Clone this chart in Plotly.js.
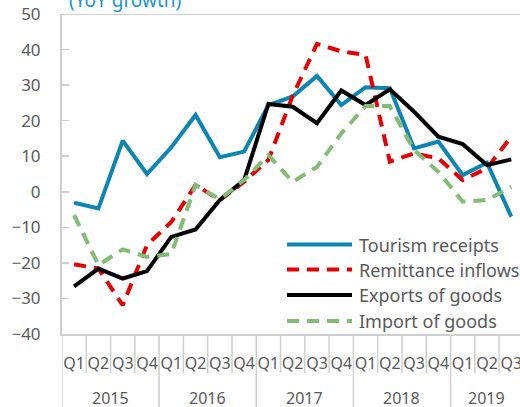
<!DOCTYPE html>
<html>
<head>
<meta charset="utf-8">
<script src="https://cdn.plot.ly/plotly-3.0.1.min.js"></script>
<style>html,body{margin:0;padding:0;background:#fff;}#chart{width:520px;height:407px;}</style>
</head>
<body>
<div id="chart"></div>
<script>
const years = ['2015','2015','2015','2015','2016','2016','2016','2016','2017','2017','2017','2017','2018','2018','2018','2018','2019','2019','2019'];
const quarters = ['Q1','Q2','Q3','Q4','Q1','Q2','Q3','Q4','Q1','Q2','Q3','Q4','Q1','Q2','Q3','Q4','Q1','Q2','Q3'];
const tourism = [-3.1,-4.7,14.4,5.0,12.5,21.6,9.7,11.3,24.4,26.8,32.6,24.4,29.4,29.1,12.2,14.1,4.7,8.2,-7.0];
const remittance = [-20.4,-21.6,-31.9,-15.0,-8.5,1.9,-2.3,2.8,9.0,27.0,41.6,39.5,38.5,8.5,10.8,9.4,3.3,6.6,15.5];
const exportsG = [-26.6,-21.6,-24.4,-22.3,-12.7,-10.6,-2.3,3.3,24.7,23.9,19.3,28.5,24.4,28.8,22.5,15.5,13.4,7.5,9.1];
const importsG = [-6.6,-20.6,-16.2,-18.3,-17.5,1.9,-2.1,3.3,10.3,2.8,7.0,16.4,24.1,24.1,11.7,5.6,-2.8,-2.3,1.4];
const seriesNames = ['Tourism receipts','Remittance inflows','Exports of goods','Import of goods'];
const seriesColors = ['#0b86b3','#e60000','#000000','#84bc76'];
const seriesDash = ['solid','12px,8px','solid','12px,8px'];
const yTicks = [-40,-30,-20,-10,0,10,20,30,40,50];

const FONT = 'Noto Sans, Open Sans, sans-serif';
const GRAY = '#595959';
const AXC = '#cfcfcf';
const idx = quarters.map((q, i) => i);
const XR = [-0.5, 18.36];
const values = [tourism, remittance, exportsG, importsG];

const traces = values.map((v, i) => ({
  x: idx, y: v, name: seriesNames[i], type: 'scatter', mode: 'lines', showlegend: false,
  line: {color: seriesColors[i], width: 4, dash: seriesDash[i]}
}));

// boundaries between quarters and between years
const uniqYears = [...new Set(years)];
const yearStarts = uniqYears.map(y => years.indexOf(y) - 0.5);
const qBounds = idx.slice(1).map(i => i - 0.5).filter(b => !yearStarts.includes(b));
const yearCenters = uniqYears.map(y => {
  const ii = idx.filter(i => years[i] === y);
  return ii.reduce((a, b) => a + b, 0) / ii.length;
});

const shapes = [{type:'line', xref:'paper', x0:0, x1:1, yref:'y', y0:50, y1:50, line:{color:AXC, width:2}}];
qBounds.forEach(b => shapes.push({type:'line', xref:'x', yref:'paper', x0:b, x1:b, y0:0, y1:-0.122,
                                  line:{color:AXC, width:1.5}}));
yearStarts.forEach(b => shapes.push({type:'line', xref:'x', yref:'paper', x0:b, x1:b, y0:0, y1:-0.235,
                                  line:{color:AXC, width:1.5}}));

// custom legend (long line samples like the reference)
const legRows = [0.2796, 0.2014, 0.1220, 0.0407];
const annotations = [{text: '(YoY growth)', xref:'paper', yref:'paper', x: 0.011, y: 1, xanchor:'left', yanchor:'bottom',
                 yshift: -1, showarrow:false, font:{family: FONT, size: 19, color:'#1a95cc'}}];
seriesNames.forEach((n, i) => {
  shapes.push({type:'line', xref:'paper', yref:'paper', x0:0.4913, x1:0.6332, y0:legRows[i], y1:legRows[i],
               line:{color: seriesColors[i], width: 4, dash: seriesDash[i]}});
  annotations.push({text: n, xref:'paper', yref:'paper', x: 0.6441, y: legRows[i], xanchor:'left', yanchor:'middle',
               showarrow:false, font:{family: FONT, size: 18, color: GRAY}});
});
uniqYears.forEach((y, i) => {
  annotations.push({text: y, xref:'x', yref:'paper', x: yearCenters[i], y: -0.2, xanchor:'center', yanchor:'middle',
               showarrow:false, font:{family: FONT, size: 16, color: GRAY}});
});

const layout = {
  width: 520, height: 407,
  margin: {l: 62, r: 0, t: 14, b: 73},
  paper_bgcolor: '#fff', plot_bgcolor: '#fff',
  font: {family: FONT, color: GRAY, size: 16},
  showlegend: false,
  xaxis: {
    type: 'linear', range: XR, tickvals: idx, ticktext: quarters, tickangle: 0, ticklabeloverflow: 'allow',
    showline: true, linecolor: AXC, linewidth: 2, ticks: '', ticklabelstandoff: 14,
    tickfont: {family: FONT, size: 16, color: GRAY}, showgrid: false, zeroline: false
  },
  xaxis2: {
    overlaying: 'x', anchor: 'free', position: 40/90, type: 'linear', range: XR,
    tickvals: idx.slice(1).map(i => i - 0.5),
    showticklabels: false, ticks: 'inside', ticklen: 7, tickcolor: AXC, tickwidth: 1.5,
    showline: true, linecolor: AXC, linewidth: 2, showgrid: false, zeroline: false
  },
  yaxis: {
    range: [-40, 50], tickvals: yTicks, ticks: 'inside', ticklen: 7, tickcolor: AXC, tickwidth: 1.5,
    showline: true, linecolor: AXC, linewidth: 2, showgrid: false, zeroline: false,
    ticklabelstandoff: 16, tickfont: {family: FONT, size: 17, color: GRAY}
  },
  shapes, annotations
};

Plotly.newPlot('chart', traces, layout, {displayModeBar: false, staticPlot: true});
</script>
</body>
</html>
